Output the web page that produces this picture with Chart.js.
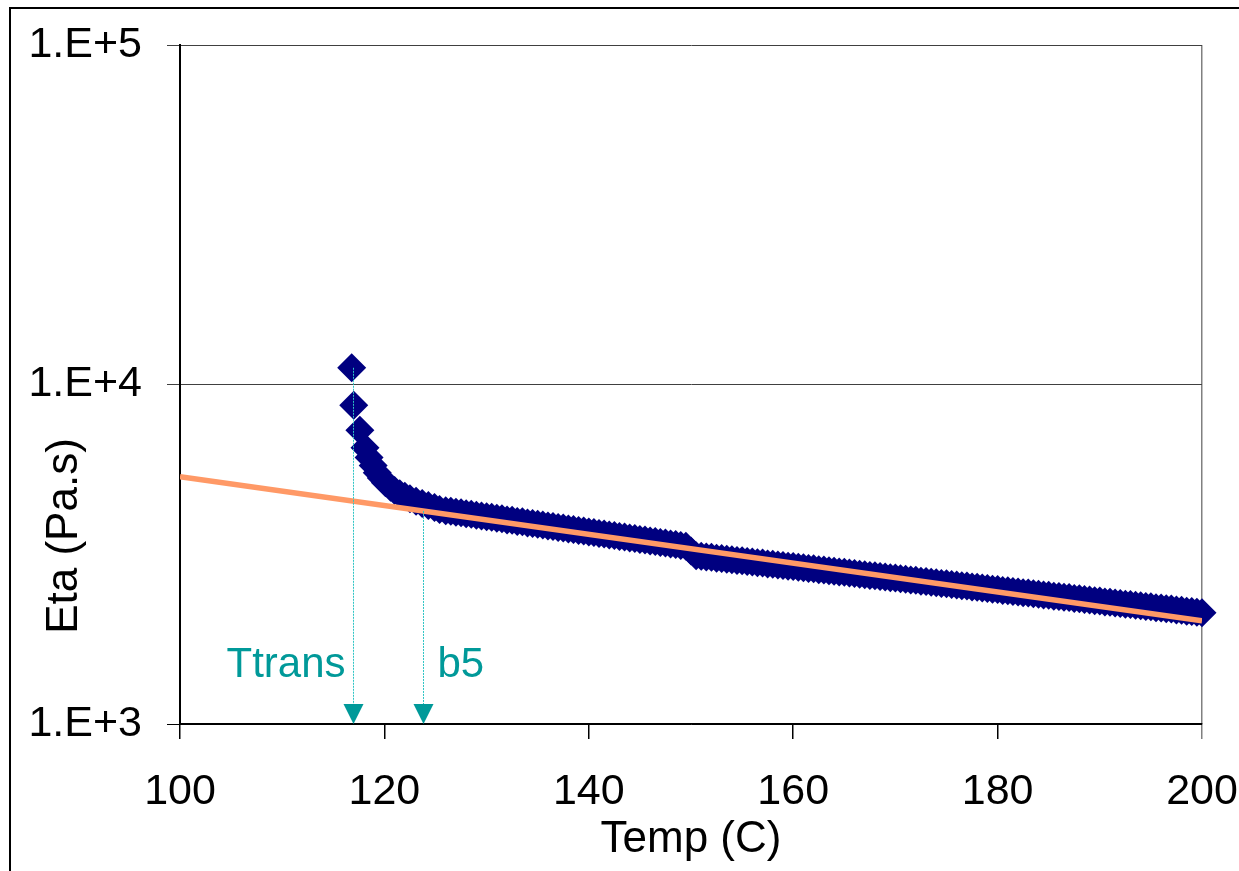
<!DOCTYPE html>
<html>
<head>
<meta charset="utf-8">
<script src="https://cdn.jsdelivr.net/npm/chart.js@4.4.0/dist/chart.umd.min.js"></script>
<style>
    html, body { margin: 0; padding: 0; background: #fff; }
    canvas { display: block; }
</style>
</head>
<body>
<canvas id="js--chart" width="1239" height="871"></canvas>
<script>
const tempC = [
    116.8, 117.0, 117.6, 118.1, 118.5, 118.9, 119.3, 119.7, 120.1, 120.6,
    121.0, 121.5, 122.0, 122.5, 123.1, 123.7, 124.3, 124.9, 125.4,
    126.0, 126.5, 127.0, 127.5, 128.0, 128.5, 129.0, 129.5, 130.0, 130.5,
    131.0, 131.5, 132.0, 132.5, 133.0, 133.5, 134.0, 134.5, 135.0, 135.5,
    136.0, 136.5, 137.0, 137.5, 138.0, 138.5, 139.0, 139.5, 140.0, 140.5,
    141.0, 141.5, 142.0, 142.5, 143.0, 143.5, 144.0, 144.5, 145.0, 145.5,
    146.0, 146.5, 147.0, 147.5, 148.0, 148.5, 149.0, 149.5, 150.0, 150.5,
    151.0, 151.5, 152.0, 152.5, 153.0, 153.5, 154.0, 154.5, 155.0, 155.5,
    156.0, 156.5, 157.0, 157.5, 158.0, 158.5, 159.0, 159.5, 160.0, 160.5,
    161.0, 161.5, 162.0, 162.5, 163.0, 163.5, 164.0, 164.5, 165.0, 165.5,
    166.0, 166.5, 167.0, 167.5, 168.0, 168.5, 169.0, 169.5, 170.0, 170.5,
    171.0, 171.5, 172.0, 172.5, 173.0, 173.5, 174.0, 174.5, 175.0, 175.5,
    176.0, 176.5, 177.0, 177.5, 178.0, 178.5, 179.0, 179.5, 180.0, 180.5,
    181.0, 181.5, 182.0, 182.5, 183.0, 183.5, 184.0, 184.5, 185.0, 185.5,
    186.0, 186.5, 187.0, 187.5, 188.0, 188.5, 189.0, 189.5, 190.0, 190.5,
    191.0, 191.5, 192.0, 192.5, 193.0, 193.5, 194.0, 194.5, 195.0, 195.5,
    196.0, 196.5, 197.0, 197.5, 198.0, 198.5, 199.0, 199.5, 200.0
];
const eta = [
    11200, 8690, 7330, 6510, 6090, 5770, 5500, 5300, 5140, 4985,
    4870, 4770, 4690, 4610, 4530, 4460, 4400, 4340, 4280,
    4250, 4232, 4205, 4190, 4160, 4145, 4118, 4102, 4075, 4061,
    4034, 4020, 3992, 3980, 3952, 3939, 3912, 3898, 3873, 3858,
    3833, 3820, 3793, 3780, 3756, 3741, 3716, 3704, 3680, 3666,
    3641, 3630, 3605, 3592, 3568, 3556, 3532, 3520, 3495, 3484,
    3459, 3449, 3423, 3413, 3389, 3378, 3356, 3340, 3235, 3131,
    3122, 3104, 3097, 3079, 3072, 3055, 3048, 3031, 3025, 3008,
    3001, 2985, 2978, 2962, 2955, 2939, 2932, 2916, 2909, 2893,
    2886, 2871, 2864, 2849, 2841, 2826, 2819, 2804, 2797, 2783,
    2776, 2761, 2754, 2739, 2733, 2718, 2712, 2697, 2691, 2676,
    2670, 2655, 2649, 2635, 2628, 2614, 2608, 2594, 2588, 2574,
    2568, 2554, 2548, 2534, 2528, 2514, 2508, 2495, 2489, 2475,
    2470, 2456, 2450, 2437, 2431, 2418, 2412, 2399, 2394, 2380,
    2375, 2362, 2357, 2343, 2338, 2325, 2320, 2307, 2302, 2289,
    2284, 2271, 2266, 2253, 2249, 2236, 2231, 2218, 2214, 2201,
    2197, 2184, 2180, 2167, 2163, 2150, 2146, 2134, 2127
];

// fitted line
const trendTemps = [100, 200];
const trendEta = [5354, 2013];

// axis ticks
const xTicks = [100, 120, 140, 160, 180, 200];
const yTickValues = [1000, 10000, 100000];
const yTickLabels = ["1.E+3", "1.E+4", "1.E+5"];

// arrows under the curve
const markerLabels = ["Ttrans", "b5"];
const markerTemps = [116.9, 123.8];
const markerStartEta = [11200, 4242];

const teal = "#009999";
const fontName = "'Liberation Sans', Arial, sans-serif";

const overlay = {
    id: "overlay",
    beforeDraw(chart) {
        const ctx = chart.ctx;
        ctx.save();
        ctx.strokeStyle = "#000";
        ctx.lineWidth = 2;
        ctx.beginPath();
        ctx.moveTo(10, chart.height);
        ctx.lineTo(10, 8);
        ctx.lineTo(chart.width, 8);
        ctx.stroke();
        ctx.restore();
    },
    afterDatasetsDraw(chart) {
        const ctx = chart.ctx;
        const xs = chart.scales.x;
        const ys = chart.scales.y;
        const bottom = chart.chartArea.bottom;
        ctx.save();
        for (let i = 0; i < markerTemps.length; i++) {
            const px = Math.round(xs.getPixelForValue(markerTemps[i])) + 0.5;
            const top = ys.getPixelForValue(markerStartEta[i]);

            ctx.strokeStyle = "#2ec4c4";
            ctx.lineWidth = 1;
            ctx.setLineDash([2, 1]);
            ctx.beginPath();
            ctx.moveTo(px, top);
            ctx.lineTo(px, bottom - 20);
            ctx.stroke();
            ctx.setLineDash([]);

            ctx.fillStyle = teal;
            ctx.beginPath();
            ctx.moveTo(px - 10, bottom - 20);
            ctx.lineTo(px + 10, bottom - 20);
            ctx.lineTo(px, bottom);
            ctx.closePath();
            ctx.fill();

            ctx.font = "42px " + fontName;
            ctx.textBaseline = "alphabetic";
            if (i === 0) {
                ctx.textAlign = "right";
                ctx.fillText(markerLabels[i], px - 8, bottom - 47);
            } else {
                ctx.textAlign = "left";
                ctx.fillText(markerLabels[i], px + 14, bottom - 47);
            }
        }
        ctx.restore();
    },
    afterDraw(chart) {
        // y title sits lower than the middle of the axis in the original
        const ctx = chart.ctx;
        ctx.save();
        ctx.translate(77, 536);
        ctx.rotate(-Math.PI / 2);
        ctx.fillStyle = "#000";
        ctx.font = "44px " + fontName;
        ctx.textAlign = "center";
        ctx.textBaseline = "alphabetic";
        ctx.fillText("Eta (Pa.s)", 0, 0);
        ctx.restore();
    }
};

const data = {
    datasets: [
        {
            type: "line",
            label: "fit",
            data: trendTemps.map((t, i) => ({ x: t, y: trendEta[i] })),
            borderColor: "#FF9966",
            borderWidth: 5.5,
            pointRadius: 0,
            fill: false,
            tension: 0
        },
        {
            label: "Eta",
            data: tempC.map((t, i) => ({ x: t, y: eta[i] })),
            pointStyle: "rectRot",
            pointRadius: 14.5,
            borderWidth: 0,
            backgroundColor: "#000080",
            borderColor: "#000080",
            clip: false
        }
    ]
};

const config = {
    type: "scatter",
    data: data,
    plugins: [overlay],
    options: {
        responsive: false,
        animation: false,
        devicePixelRatio: 1,
        layout: { padding: { left: 0, top: 45, right: 37, bottom: 0 } },
        plugins: {
            legend: { display: false },
            tooltip: { enabled: false }
        },
        scales: {
            x: {
                type: "linear",
                min: 100,
                max: 200,
                afterBuildTicks: (scale) => {
                    scale.ticks = xTicks.map((v) => ({ value: v }));
                },
                afterFit: (scale) => {
                    scale.height = 147;
                    // labels may hang over the edges, like in the original
                    scale.paddingLeft = 0;
                    scale.paddingRight = 0;
                },
                ticks: {
                    color: "#000",
                    font: { family: fontName, size: 43 },
                    padding: 27,
                    maxRotation: 0,
                    autoSkip: false
                },
                grid: {
                    drawOnChartArea: true,
                    tickLength: 15,
                    lineWidth: 1.5,
                    color: (c) => (c.tick && c.tick.value === 200 ? "#808080" : "rgba(0,0,0,0)"),
                    tickColor: (c) => (c.tick && c.tick.value === 200 ? "#808080" : "#000")
                },
                border: { display: true, color: "#000", width: 1.5 },
                title: {
                    display: true,
                    text: "Temp (C)",
                    color: "#000",
                    font: { family: fontName, size: 44 },
                    padding: { top: 0, bottom: 5 }
                }
            },
            y: {
                type: "logarithmic",
                min: 1000,
                max: 100000,
                afterBuildTicks: (scale) => {
                    scale.ticks = yTickValues.map((v) => ({ value: v }));
                },
                afterFit: (scale) => {
                    scale.width = 180;
                    scale.paddingTop = 0;
                    scale.paddingBottom = 0;
                },
                ticks: {
                    color: "#000",
                    font: { family: fontName, size: 43 },
                    padding: 25,
                    autoSkip: false,
                    callback: (v) => yTickLabels[yTickValues.indexOf(v)]
                },
                grid: {
                    tickLength: 13,
                    lineWidth: 1,
                    color: (c) => (c.tick && c.tick.value === 1000 ? "#000" : "#404040")
                },
                border: { display: true, color: "#000", width: 2 }
            }
        }
    }
};

const chart = new Chart(document.getElementById("js--chart"), config);
</script>
</body>
</html>
